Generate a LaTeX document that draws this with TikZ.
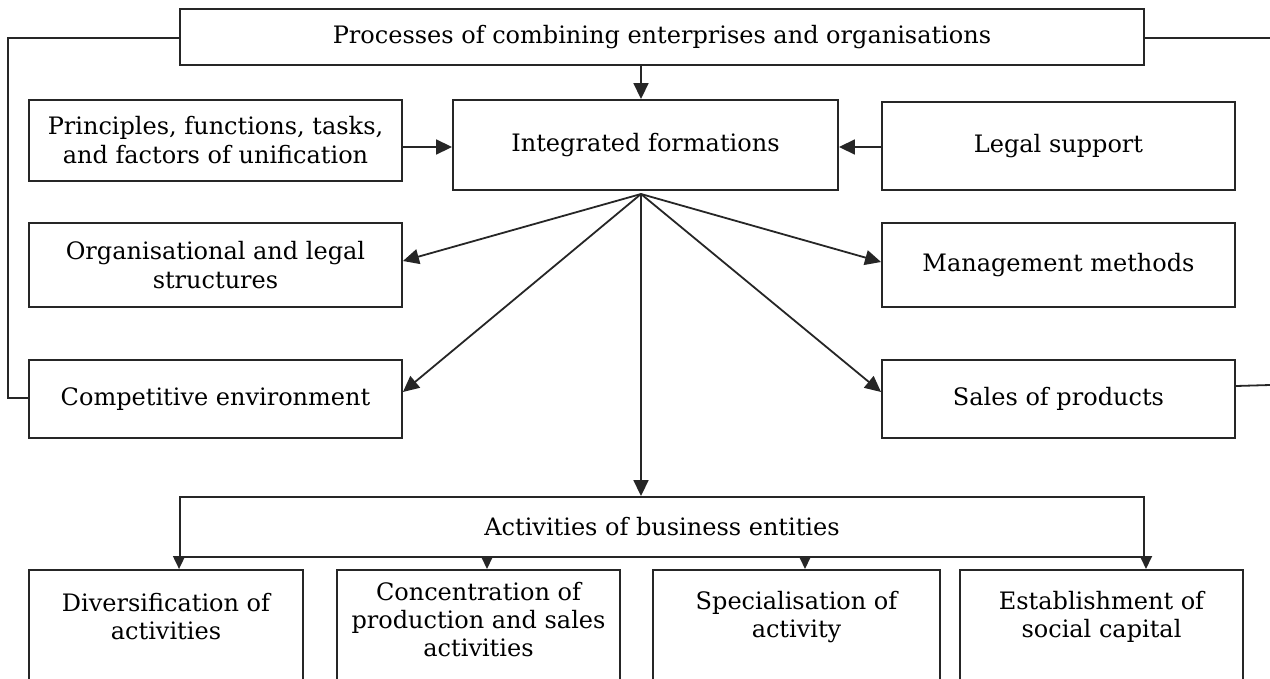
\documentclass[tikz,border=0pt]{standalone}
\usepackage{fontspec}
\setmainfont{DejaVu Serif}
\usetikzlibrary{arrows.meta,calc}
\begin{document}
\begin{tikzpicture}[x=1pt,y=-1pt,
  box/.style={draw=black!85,line width=1.9pt,inner sep=0pt,align=center,
    font=\fontsize{24}{29}\selectfont},
  lbl/.style={inner sep=0pt,align=center,font=\fontsize{24}{28}\selectfont},
  conn/.style={draw=black!85,line width=1.8pt},
  arr/.style={conn,-{Triangle[length=16pt,width=15pt]}},
  sarr/.style={conn,-{Triangle[length=13pt,width=12pt]}}]
\clip (0,0) rectangle (1270,678);
\useasboundingbox (0,0) rectangle (1270,678);
% top row
\node[box,minimum width=964,minimum height=56] (top) at (662,37) {Processes of combining enterprises and organisations};
\node[box,minimum width=373,minimum height=81] (princ) at (215.5,140.5) {Principles, functions, tasks,\\and factors of unification};
\node[box,minimum width=385,minimum height=90] (integ) at (645.5,145) {Integrated formations};
\node[box,minimum width=353,minimum height=88] (legal) at (1058.5,146) {Legal support};
\node[box,minimum width=373,minimum height=84] (org) at (215.5,265) {Organisational and legal\\structures};
\node[box,minimum width=353,minimum height=84] (mgmt) at (1058.5,265) {Management methods};
\node[box,minimum width=373,minimum height=78] (comp) at (215.5,399) {Competitive environment};
\node[box,minimum width=353,minimum height=78] (sales) at (1058.5,399) {Sales of products};
\node[box,minimum width=964,minimum height=60] (act) at (662,527) {Activities of business entities};
% bottom boxes (cut off by the page)
\node[box,minimum width=274,minimum height=140,anchor=north] (d1) at (166,569) {};
\node[box,minimum width=283,minimum height=140,anchor=north] (d2) at (478.5,569) {};
\node[box,minimum width=287,minimum height=140,anchor=north] (d3) at (796.5,569) {};
\node[box,minimum width=283,minimum height=140,anchor=north] (d4) at (1101.5,569) {};
\node[lbl] (d1t) at (166,617) {Diversification of\\activities};
\node[lbl] (d2t) at (478.5,620) {Concentration of\\production and sales\\activities};
\node[lbl] (d3t) at (796.5,617) {Specialisation of\\activity};
\node[lbl] (d4t) at (1101.5,617) {Establishment of\\social capital};
% connectors
\coordinate (hub) at (641,194);
\coordinate (lft) at (8,38);
\coordinate (rtop) at (1270,38);
\coordinate (rsal) at (1270,385);
\draw[arr] (top.south -| hub) -- (integ.north -| hub);
\draw[arr] (princ.east |- 0,147) -- (integ.west |- 0,147);
\draw[arr] (legal.west |- 0,147) -- (integ.east |- 0,147);
\draw[arr] (hub) -- (org.east |- 0,261);
\draw[arr] (hub) -- (mgmt.west |- 0,262);
\draw[arr] (hub) -- (comp.east |- 0,392);
\draw[arr] (hub) -- (sales.west |- 0,392);
\draw[arr] (hub) -- (act.north -| hub);
\draw[conn] (top.west |- lft) -- (lft) -- (lft |- 0,398) -- (comp.west |- 0,398);
\draw[conn] (top.east |- rtop) -- (rtop);
\draw[conn] (sales.east |- 0,386) -- (rsal);
\draw[sarr] (act.south west) -- (act.south west |- d1.north);
\draw[sarr] (act.south -| 487,0) -- (d2.north -| 487,0);
\draw[sarr] (act.south -| 805,0) -- (d3.north -| 805,0);
\draw[sarr] (act.south -| 1146,0) -- (d4.north -| 1146,0);
\end{tikzpicture}
\end{document}
